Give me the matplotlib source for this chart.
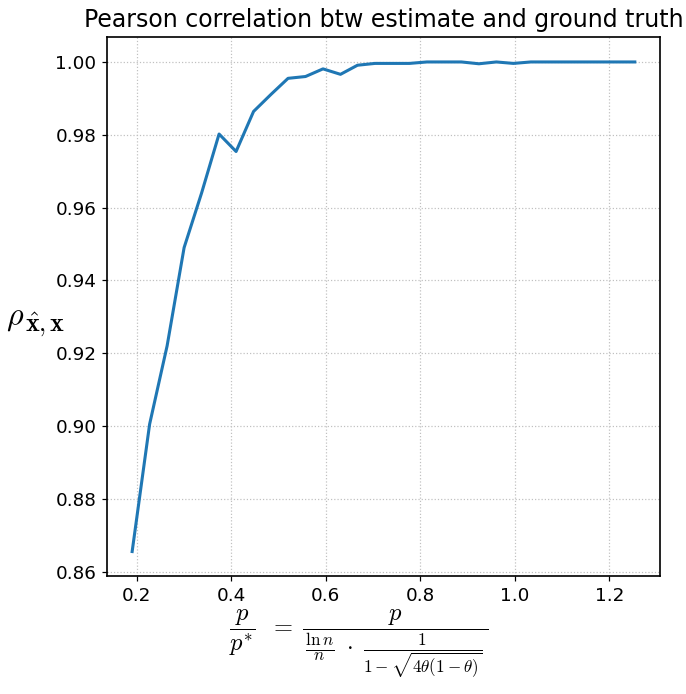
import numpy as np
import matplotlib
matplotlib.use("Agg")
import matplotlib.pyplot as plt

plt.rcParams["mathtext.fontset"] = "cm"

# normalized sampling rate p / p*
ratio = [0.190, 0.227, 0.264, 0.300, 0.337, 0.374, 0.410, 0.447, 0.484, 0.520,
         0.557, 0.594, 0.631, 0.667, 0.704, 0.741, 0.777, 0.814, 0.851, 0.887,
         0.924, 0.961, 0.997, 1.034, 1.071, 1.107, 1.144, 1.181, 1.217, 1.254]

# Pearson correlation between estimate and ground truth
pearson = [0.8655, 0.9005, 0.9220, 0.9490, 0.9640, 0.9802, 0.9754, 0.9864, 0.9911, 0.9955,
           0.9960, 0.9981, 0.9966, 0.9991, 0.9996, 0.9996, 0.9996, 1.0000, 1.0000, 1.0000,
           0.9995, 1.0000, 0.9996, 1.0000, 1.0000, 1.0000, 1.0000, 1.0000, 1.0000, 1.0000]

DPI = 110
fig = plt.figure(figsize=(686 / DPI, 694 / DPI), dpi=DPI)
ax = fig.add_axes([0.156, 0.170, 0.806, 0.776])

ax.plot(ratio, pearson, color="#1f77b4", linewidth=2)
ax.grid(True, linestyle=":", color="#c0c0c0", linewidth=0.8)

ax.set_title("Pearson correlation btw estimate and ground truth", fontsize=15.5, pad=7)
ax.set_xlabel(r"$\dfrac{\,p\,}{p^{*}}\;\;=\;\dfrac{p}{\,\frac{\ln n}{n}\;\cdot\;\frac{1}{1-\sqrt{4\theta(1-\theta)}}\,}$",
              fontsize=16, va="top")
ax.xaxis.set_label_coords(0.456, -0.058)

# y label: rho with a bold subscript drawn at its own size
ax.set_ylabel(r"$\rho$", fontsize=21, rotation=0, ha="left", va="baseline")
ax.yaxis.set_label_coords(-0.183, 0.466)
ax.text(-0.148, 0.455, r"$\hat{\mathbf{x}}{,}\,\mathbf{x}$", fontsize=17,
        transform=ax.transAxes, ha="left", va="baseline")

ax.set_xticks([0.2, 0.4, 0.6, 0.8, 1.0, 1.2])
ax.set_yticks([0.86, 0.88, 0.90, 0.92, 0.94, 0.96, 0.98, 1.00])
ax.tick_params(labelsize=12)
for s in ax.spines.values():
    s.set_linewidth(1.1)

fig.savefig("out.png", dpi=DPI)
